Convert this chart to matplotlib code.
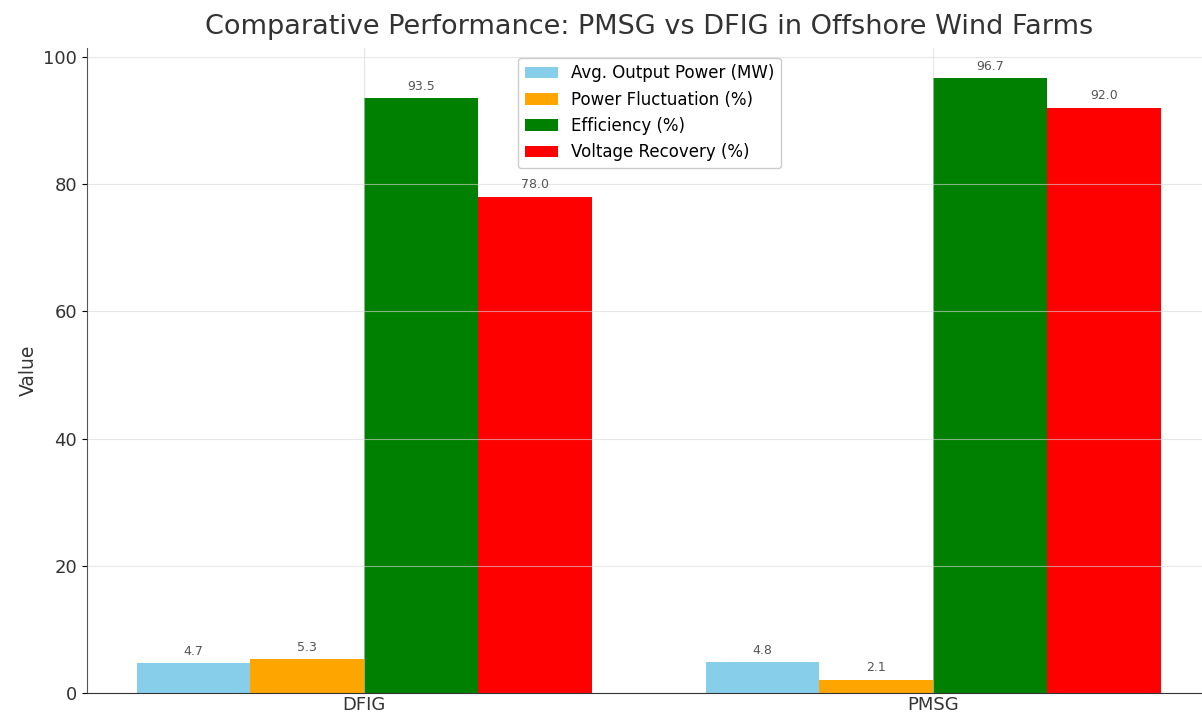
import numpy as np
import matplotlib.pyplot as plt

# Data
generators = ['DFIG', 'PMSG']
avg_power = [4.7, 4.8]
fluctuation = [5.3, 2.1]
efficiency = [93.5, 96.7]
voltage_recovery = [78.0, 92.0]

series = [
    ('Avg. Output Power (MW)', avg_power, 'skyblue'),
    ('Power Fluctuation (%)', fluctuation, 'orange'),
    ('Efficiency (%)', efficiency, 'green'),
    ('Voltage Recovery (%)', voltage_recovery, 'red'),
]

fig = plt.figure(figsize=(12.02, 7.16), dpi=100)
ax = fig.add_axes([0.0724, 0.0321, 0.936, 0.9015])

x = np.arange(len(generators))
width = 0.2

for i, (label, vals, color) in enumerate(series):
    bars = ax.bar(x + (i - 1.5) * width, vals, width, label=label, color=color)
    for b in bars:
        ax.annotate(f'{b.get_height():.1f}',
                    xy=(b.get_x() + b.get_width() / 2, b.get_height()),
                    xytext=(0, 4), textcoords='offset points',
                    ha='center', va='bottom', fontsize=9, color='#555555')

ax.set_xticks(x)
ax.set_xticklabels(generators, fontsize=13, color='#333333')
ax.tick_params(axis='x', length=0, pad=2)
ax.tick_params(axis='y', labelsize=13, labelcolor='#333333')
ax.set_ylabel('Value', fontsize=13.5, color='#333333')
ax.set_title('Comparative Performance: PMSG vs DFIG in Offshore Wind Farms',
             fontsize=19.5, color='#333333', pad=10)
ax.set_xlim(-0.487, 1.49)
ax.set_ylim(0, 101.5)

ax.grid(True, color='#d8d8d8', linewidth=0.8, alpha=0.6)
ax.spines['top'].set_visible(False)
ax.spines['right'].set_visible(False)
ax.spines['left'].set_color('#555555')
ax.spines['bottom'].set_color('#333333')

ax.legend(loc='upper center', fontsize=12, framealpha=1, borderaxespad=0.6)

fig.savefig('out.png', dpi=100)
